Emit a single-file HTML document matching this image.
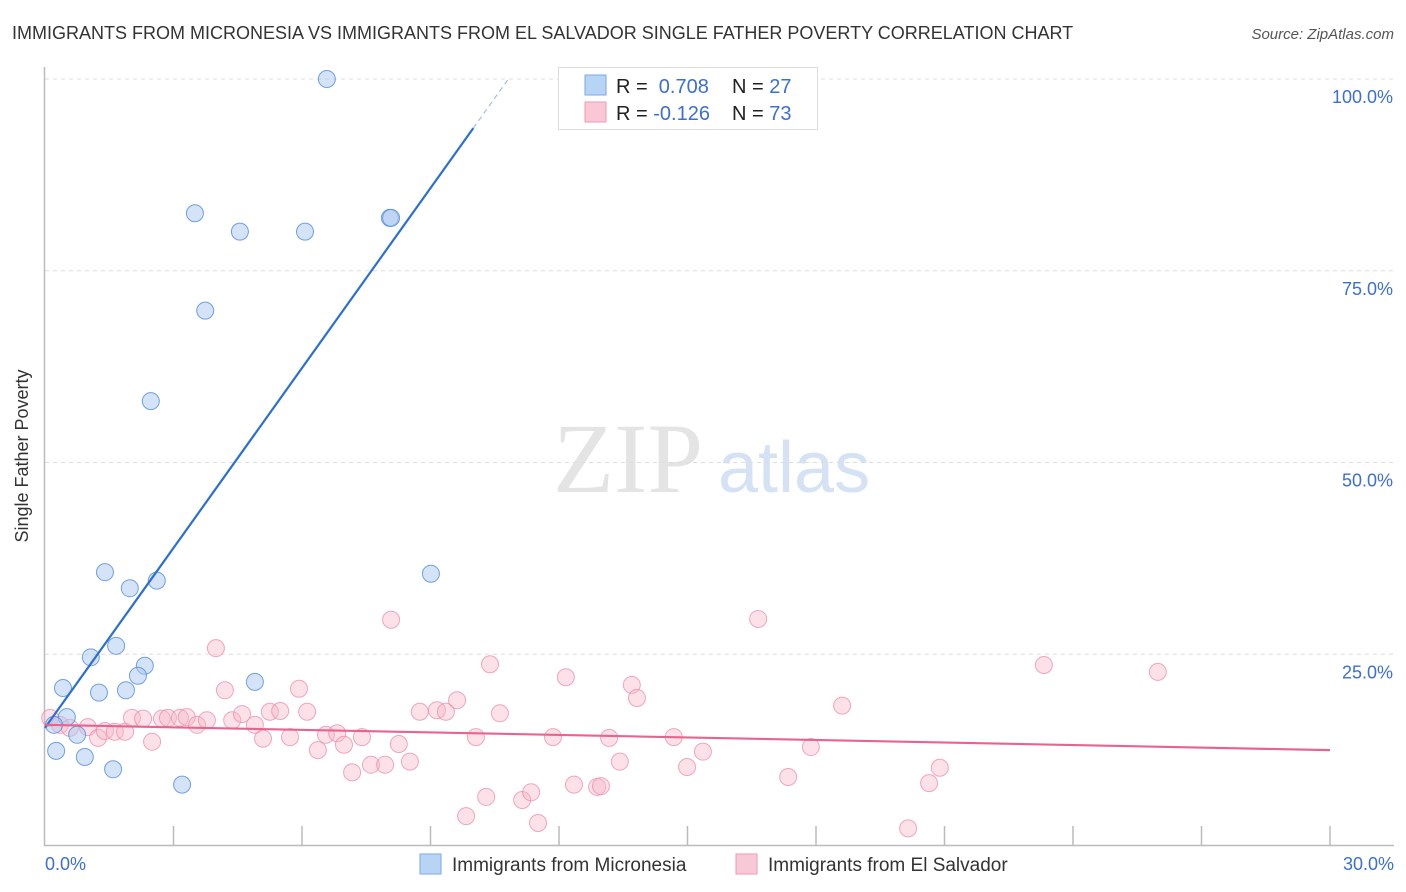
<!DOCTYPE html>
<html><head><meta charset="utf-8">
<style>
body{margin:0;background:#fff;font-family:"Liberation Sans",sans-serif;}
svg{display:block}
</style></head>
<body>
<svg id="chart" width="1406" height="892" xmlns="http://www.w3.org/2000/svg">
<text x="12" y="39" font-size="18" fill="#333">IMMIGRANTS FROM MICRONESIA VS IMMIGRANTS FROM EL SALVADOR SINGLE FATHER POVERTY CORRELATION CHART</text>
<text x="1394" y="39" font-size="15" fill="#555" font-style="italic" text-anchor="end">Source: ZipAtlas.com</text>
<text x="28" y="456" font-size="18" fill="#333" text-anchor="middle" transform="rotate(-90 28 456)">Single Father Poverty</text>
<g>
<text x="553" y="492" font-family="Liberation Serif,serif" font-size="100" fill="#e4e4e4">ZIP</text>
<text x="718" y="492" font-size="72" fill="#d4e2f4">atlas</text>
</g>
<g id="grid"></g>
<g id="marks"></g>
<g>
<rect x="558.5" y="67.5" width="259" height="62" fill="#fff" stroke="#ddd"/>
<rect x="585" y="75" width="21" height="20" fill="#b8d4f5" stroke="#7aa8e6"/>
<rect x="585" y="102" width="21" height="20" fill="#f9c8d6" stroke="#ee9ab4"/>
<text x="616" y="93" font-size="20" fill="#222">R = <tspan fill="#3c6fd1">&#160;0.708</tspan><tspan x="732">N = </tspan><tspan fill="#3c6fd1">27</tspan></text>
<text x="616" y="120" font-size="20" fill="#222">R = <tspan fill="#3c6fd1">-0.126</tspan><tspan x="732">N = </tspan><tspan fill="#3c6fd1">73</tspan></text>
</g>
<g>
<rect x="420" y="854" width="21" height="20" fill="#b8d4f5" stroke="#7aa8e6"/>
<text x="452" y="871" font-size="19" fill="#333">Immigrants from Micronesia</text>
<rect x="736" y="854" width="21" height="20" fill="#f9c8d6" stroke="#ee9ab4"/>
<text x="768" y="871" font-size="19" fill="#333">Immigrants from El Salvador</text>
</g>
</svg>
<script>
const yTicks=[25,50,75,100];
const xTickVals=[0,3,6,9,12,15,18,21,24,27,30];
const blueX=[6.58,3.50,4.55,6.07,8.05,8.08,3.74,2.47,1.40,1.98,2.61,9.01,1.66,1.07,2.33,2.17,4.90,0.42,1.26,1.89,0.51,0.21,0.75,0.26,0.93,1.59,3.20];
const blueY=[100,82.5,80.1,80.1,81.9,81.9,69.8,58.0,35.7,33.6,34.6,35.5,26.1,24.6,23.5,22.2,21.4,20.6,20.0,20.3,16.8,15.8,14.5,12.4,11.6,10.0,8.0];
const pinkX=[0.12,0.35,0.58,1.00,1.24,1.40,1.63,1.87,2.03,2.29,2.50,2.73,2.87,3.15,3.31,3.55,3.78,3.99,4.20,4.37,4.60,4.90,5.09,5.25,5.49,5.72,5.93,6.12,6.37,6.56,6.82,6.98,7.17,7.40,7.61,7.94,8.08,8.26,8.52,8.75,9.15,9.36,9.62,9.83,10.06,10.30,10.39,10.62,11.14,11.35,11.51,11.86,12.16,12.35,12.89,12.98,13.17,13.42,13.70,13.82,14.68,14.99,15.36,16.65,17.35,17.88,18.61,20.15,20.64,20.89,23.32,25.98];
const pinkY=[16.7,15.8,15.4,15.5,14.1,15.0,14.9,14.9,16.7,16.6,13.6,16.6,16.7,16.7,16.8,15.8,16.4,25.8,20.3,16.4,17.2,15.8,14.0,17.5,17.6,14.2,20.5,17.5,12.5,14.5,14.7,13.2,9.6,14.2,10.6,10.6,29.5,13.3,11.0,17.5,17.7,17.5,19.0,3.9,14.2,6.4,23.7,17.3,6.0,7.0,3.0,14.2,22.0,8.0,7.7,7.8,14.1,11.0,21.0,19.3,14.2,10.3,12.3,29.6,9.0,12.9,18.3,2.3,8.2,10.2,23.6,22.7];
const blueTrend=[15.4,7.82]; // intercept, slope
const pinkTrend=[15.8,12.5]; // y at x=0, y at x=30
const NS='http://www.w3.org/2000/svg';
const X0=45,X1=1330,Y0=846,Y100=79;
const sx=v=>X0+(v/30)*(X1-X0);
const sy=v=>Y0-(v/100)*(Y0-Y100);
function mk(tag,attrs,parent){const e=document.createElementNS(NS,tag);for(const k in attrs)e.setAttribute(k,attrs[k]);parent.appendChild(e);return e;}
const grid=document.getElementById('grid'),marks=document.getElementById('marks');
yTicks.forEach(t=>{
  const l=mk('line',{x1:X0,x2:1394,y1:sy(t),y2:sy(t),stroke:'#ddd','stroke-dasharray':'4,4'},grid);
  
  
  const tx=mk('text',{x:1393,y:sy(t)+24,'font-size':18,fill:'#3c6fd1','text-anchor':'end'},grid);
  tx.textContent=t.toFixed(1)+'%';
  
  
});
const ax=mk('path',{d:`M${X0-0.5} 67 V${Y0-0.5} H1394`,stroke:'#bbb',fill:'none','stroke-width':1.5},grid);


xTickVals.forEach(t=>{
  if(t===0)return;
  const l=mk('line',{x1:sx(t),x2:sx(t),y1:826,y2:Y0,stroke:'#bbb','stroke-width':1.5},grid);
  
  
});
[[0,'0.0%',45,'start'],[30,'30.0%',1394,'end']].forEach(a=>{
  const tx=mk('text',{x:a[2],y:870,'font-size':18,fill:'#3c6fd1','text-anchor':a[3]},grid);
  tx.textContent=a[1];
  
  
});
pinkX.forEach((x,i)=>{
  const c=mk('circle',{cx:sx(x),cy:sy(pinkY[i]),r:8.5,fill:'rgba(248,180,200,0.4)',stroke:'rgba(235,140,170,0.75)','stroke-width':1},marks);
  
  
});
blueX.forEach((x,i)=>{
  const c=mk('circle',{cx:sx(x),cy:sy(blueY[i]),r:8.5,fill:'rgba(170,200,240,0.5)',stroke:'rgba(80,140,220,0.8)','stroke-width':1},marks);
  
  
});
const bf=x=>blueTrend[0]+blueTrend[1]*x;
const bl=mk('line',{x1:sx(0),y1:sy(bf(0)),x2:sx(10),y2:sy(bf(10)),stroke:'#2a6fd6','stroke-width':2.2},marks);


const bd=mk('line',{x1:sx(10),y1:sy(bf(10)),x2:sx(10.8),y2:sy(bf(10.8)),stroke:'#9fbfea','stroke-width':1.2,'stroke-dasharray':'5,4'},marks);


const pl=mk('line',{x1:sx(0),y1:sy(pinkTrend[0]),x2:sx(30),y2:sy(pinkTrend[1]),stroke:'#e8648f','stroke-width':2.2},marks);


</script>
</body></html>
